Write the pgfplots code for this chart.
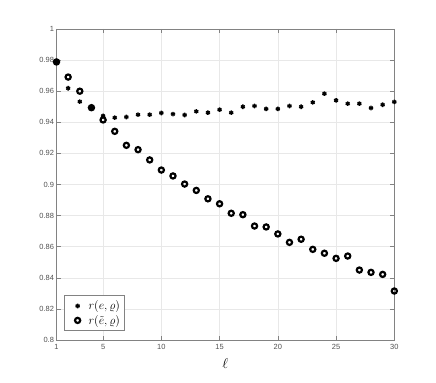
\documentclass[border=0pt]{standalone}
\usepackage{fontspec}
\setmainfont{Liberation Sans}
\usepackage{pgfplots}
\pgfplotsset{compat=1.18}
\definecolor{gridgray}{RGB}{232,232,232}
\definecolor{axgray}{RGB}{130,130,130}
\definecolor{ticktext}{RGB}{80,80,80}

\begin{document}
\begin{tikzpicture}[x=1bp,y=1bp]
  \useasboundingbox (0,0) rectangle (436,382);
  \begin{axis}[
      at={(56.5bp,42bp)}, anchor=south west,
      width=337.8bp, height=311bp, scale only axis,
      xmin=1, xmax=30, ymin=0.8, ymax=1,
      xtick={1,5,10,15,20,25,30},
      ytick={0.8,0.82,0.84,0.86,0.88,0.9,0.92,0.94,0.96,0.98,1},
      yticklabels={0.8,0.82,0.84,0.86,0.88,0.9,0.92,0.94,0.96,0.98,1},
      /pgf/number format/assume math mode=true,
      tick label style={font=\fontsize{7.5}{9}\selectfont, text=ticktext},
      xticklabel style={yshift=-1bp},
      yticklabel style={xshift=1bp},
      tick align=inside, major tick length=4bp,
      tick style={axgray, line width=0.5bp},
      axis line style={axgray, line width=0.7bp},
      grid=major, major grid style={gridgray, line width=0.5bp},
      xlabel={$\ell$},
      xlabel style={at={(axis description cs:0.5,-0.074)}, anchor=center, font=\fontsize{15}{16}\selectfont},
      legend style={at={(axis description cs:0.023,0.029)}, anchor=south west,
                    draw=axgray, line width=0.7bp, fill=white,
                    font=\fontsize{12.5}{14}\selectfont,
                    inner xsep=2bp, inner ysep=3bp, row sep=0bp},
      legend image code/.code={%
        \path[draw=none, fill=none] (0bp,-1bp) rectangle (20bp,1bp);
        \draw[#1] plot coordinates {(11bp,0bp)};},
      legend cell align=left,
      clip=false,
    ]
    % r(e, rho)
    \addplot[only marks, mark=asterisk, mark size=2.3pt, black, line width=1.4pt]
      coordinates {
        (1,0.9788) (2,0.9619) (3,0.9533) (4,0.9494) (5,0.9441) (6,0.9430)
        (7,0.9434) (8,0.9449) (9,0.9449) (10,0.9460) (11,0.9453) (12,0.9447)
        (13,0.9470) (14,0.9462) (15,0.9481) (16,0.9462) (17,0.9500) (18,0.9505)
        (19,0.9486) (20,0.9486) (21,0.9505) (22,0.9500) (23,0.9528) (24,0.9584)
        (25,0.9541) (26,0.9520) (27,0.9520) (28,0.9492) (29,0.9513) (30,0.9531)
      };
    \addlegendentry{$r(e,\varrho)$}

    % r(e~, rho)
    \addplot[only marks, mark=o, mark size=2.6pt, black, line width=2.2pt]
      coordinates {
        (1,0.9788) (2,0.9691) (3,0.9600) (4,0.9494) (5,0.9415) (6,0.9342)
        (7,0.9252) (8,0.9224) (9,0.9158) (10,0.9093) (11,0.9055) (12,0.9003)
        (13,0.8962) (14,0.8908) (15,0.8876) (16,0.8815) (17,0.8806) (18,0.8733)
        (19,0.8727) (20,0.8682) (21,0.8628) (22,0.8648) (23,0.8583) (24,0.8558)
        (25,0.8525) (26,0.8540) (27,0.8450) (28,0.8435) (29,0.8422) (30,0.8315)
      };
    \addlegendentry{$r(\tilde{e},\varrho)$}
  \end{axis}
\end{tikzpicture}
\end{document}
